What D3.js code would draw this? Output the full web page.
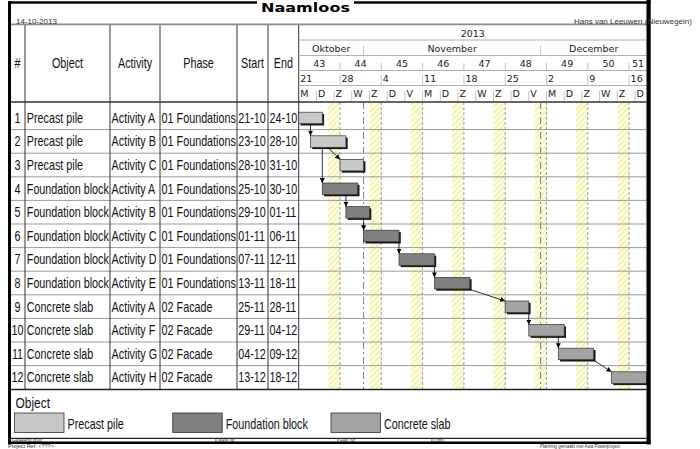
<!DOCTYPE html>
<html><head><meta charset="utf-8">
<script src="https://cdn.jsdelivr.net/npm/d3@7"></script>
<style>body{margin:0;background:#fff}svg{display:block}</style>
</head><body><svg id="c" width="700" height="449"></svg>
<script>
// ---------- data ----------
const ids = [1,2,3,4,5,6,7,8,9,10,11,12];
const objects = ["Precast pile","Precast pile","Precast pile","Foundation block","Foundation block","Foundation block","Foundation block","Foundation block","Concrete slab","Concrete slab","Concrete slab","Concrete slab"];
const activities = ["Activity A","Activity B","Activity C","Activity A","Activity B","Activity C","Activity D","Activity E","Activity A","Activity F","Activity G","Activity H"];
const phases = ["01 Foundations","01 Foundations","01 Foundations","01 Foundations","01 Foundations","01 Foundations","01 Foundations","01 Foundations","02 Facade","02 Facade","02 Facade","02 Facade"];
const starts = ["21-10","23-10","28-10","25-10","29-10","01-11","07-11","13-11","25-11","29-11","04-12","13-12"];
const ends   = ["24-10","28-10","31-10","30-10","01-11","06-11","12-11","18-11","28-11","04-12","09-12","18-12"];
// dependency links: source, target, date where the line leaves the source bar
const linkFrom = [1,2,2,4,5,6,7,8,9,10,11];
const linkTo   = [2,3,4,5,6,7,8,9,10,11,12];
const linkExit = ["23-10","26-10","25-10","29-10","01-11","07-11","13-11","19-11","29-11","04-12","10-12"];

const legendNames = ["Precast pile","Foundation block","Concrete slab"];
const legendColors = ["#c8c8c8","#808080","#a3a3a3"];

const headerLabels = ["#","Object","Activity","Phase","Start","End"];
const yearLabel = "2013";
const monthLabels = ["Oktober","November","December"];
const monthStarts = ["21-10","01-11","01-12"];
const weekLabels = ["43","44","45","46","47","48","49","50","51"];
const dateLabels = ["21","28","4","11","18","25","2","9","16"];
const dayLabels = ["M","D","Z","W","Z","D","V","M","D","Z","W","Z","D","V","M","D","Z","W","Z","D"];
const footerLabels = ["Getekend door:","Werk Nr.","Rev. Nr.","Opm."];

// ---------- helpers ----------
const parse = s => { const [d,m] = s.split("-").map(Number); return new Date(Date.UTC(2013, m-1, d)); };
const svg = d3.select("#c");
const SANS = "'Liberation Sans',Arial,sans-serif";
const HDR = "'DejaVu Sans',sans-serif";
const NX = 0.77; // horizontal compression for narrow text

const X0 = 298.7, X1 = 646.8;
const x = d3.scaleUtc().domain([parse("21-10"), parse("19-12")]).range([X0, X1]);
const y = d3.scaleBand().domain(ids).range([106, 389.2]);
const colColor = d3.scaleOrdinal().domain(legendNames).range(legendColors);
const cols = [10, 25, 110, 160, 237, 268, X0];
const L = 10, R = 646.5;

function ntext(sel, fx, fy) {
  return sel.attr("x", 0).attr("y", 0)
    .attr("transform", (d,i) => `translate(${fx(d,i)},${fy(d,i)}) scale(${NX},1)`)
    .attr("font-family", SANS);
}

// defs: hatch + arrow
const defs = svg.append("defs");
const pat = defs.append("pattern").attr("id","hatch").attr("patternUnits","userSpaceOnUse")
  .attr("width",4).attr("height",4).attr("patternTransform","rotate(45)");
pat.append("rect").attr("width",4).attr("height",4).attr("fill","#ffffe2");
pat.append("rect").attr("width",1.4).attr("height",4).attr("fill","#f3eda6");
defs.append("marker").attr("id","arr").attr("viewBox","0 0 6 6").attr("refX",6).attr("refY",3)
  .attr("markerWidth",5).attr("markerHeight",5).attr("orient","auto").attr("markerUnits","userSpaceOnUse")
  .append("path").attr("d","M0,0L6,3L0,6Z").attr("fill","#000");

// ---------- timeline body background ----------
const body = svg.append("g");
const domainDays = d3.utcDay.range(parse("21-10"), parse("19-12"));
const saturdays = domainDays.filter(d => d.getUTCDay() === 6);
body.selectAll("rect.we").data(saturdays).join("rect")
  .attr("x", d => x(d)).attr("y", 102).attr("width", d => Math.min(x(d3.utcDay.offset(d,2)), X1) - x(d))
  .attr("height", 389.2 - 102).attr("fill","url(#hatch)");
const mondays = domainDays.filter(d => d.getUTCDay() === 1).slice(1);
body.selectAll("line.mon").data(mondays).join("line")
  .attr("x1", d => x(d)).attr("x2", d => x(d)).attr("y1",102).attr("y2",389)
  .attr("stroke","#8a8a8a").attr("stroke-width",0.8).attr("stroke-dasharray","3,2");
const monthBounds = monthStarts.slice(1).map(parse);
body.selectAll("line.mb").data(monthBounds).join("line")
  .attr("x1", d => x(d)).attr("x2", d => x(d)).attr("y1",102).attr("y2",389)
  .attr("stroke","#7878a8").attr("stroke-width",1).attr("stroke-dasharray","7,3,2,3");

// ---------- grid ----------
const grid = svg.append("g");
grid.selectAll("line.row").data(ids.slice(1)).join("line")
  .attr("x1", L).attr("x2", R).attr("y1", d => y(d)).attr("y2", d => y(d))
  .attr("stroke","#9a9a9a").attr("stroke-width",1);
grid.selectAll("line.col").data(cols.slice(1)).join("line")
  .attr("x1", d => d).attr("x2", d => d).attr("y1", 25).attr("y2", 389.2)
  .attr("stroke","#333").attr("stroke-width",1);
grid.selectAll("line.th").data([40, 55.5, 70.5, 85.5]).join("line")
  .attr("x1", X0).attr("x2", R).attr("y1", d => d).attr("y2", d => d)
  .attr("stroke","#b0b0b0").attr("stroke-width",1);
grid.append("line").attr("x1",L).attr("x2",R).attr("y1",24.3).attr("y2",24.3).attr("stroke","#8c8c8c").attr("stroke-width",1.8);
grid.append("line").attr("x1",L).attr("x2",R).attr("y1",102).attr("y2",102).attr("stroke","#333").attr("stroke-width",1.3);
grid.append("line").attr("x1",L).attr("x2",R).attr("y1",389.5).attr("y2",389.5).attr("stroke","#222").attr("stroke-width",1.3);
grid.append("line").attr("x1",L).attr("x2",R).attr("y1",438.3).attr("y2",438.3).attr("stroke","#222").attr("stroke-width",1.3);

// ---------- header text ----------
const hdrCenters = cols.slice(0,-1).map((c,i) => (c + cols[i+1]) / 2);
ntext(svg.selectAll("text.hl").data(headerLabels).join("text"), (d,i) => hdrCenters[i], () => 68)
  .attr("text-anchor","middle").attr("font-size", 14).attr("fill","#111").text(d => d);

// timeline header
const th = svg.append("g").attr("font-family", HDR).attr("font-size", 9.5).attr("fill","#222");
th.append("text").attr("x", (X0 + X1) / 2).attr("y", 36.5).attr("text-anchor","middle").text(yearLabel);
const mStarts = monthStarts.map(parse);
const mEnds = mStarts.slice(1).concat([parse("19-12")]);
th.selectAll("text.m").data(monthLabels).join("text")
  .attr("x", (d,i) => (x(mStarts[i]) + x(mEnds[i])) / 2).attr("y", 51.5).attr("text-anchor","middle").text(d => d);
th.selectAll("line.mt").data(monthBounds).join("line")
  .attr("x1", d => x(d)).attr("x2", d => x(d)).attr("y1", 46).attr("y2", 55.5).attr("stroke","#c4c4c4");
const weekStarts = weekLabels.map((w,i) => d3.utcDay.offset(parse("21-10"), 7*i));
th.selectAll("text.w").data(weekLabels).join("text")
  .attr("x", (d,i) => (x(weekStarts[i]) + Math.min(x(d3.utcDay.offset(weekStarts[i],7)), X1)) / 2)
  .attr("y", 66.5).attr("text-anchor","middle").text(d => d);
th.selectAll("line.wt").data(weekStarts.slice(1)).join("line")
  .attr("x1", d => x(d)).attr("x2", d => x(d)).attr("y1", 63).attr("y2", 70.5).attr("stroke","#c4c4c4");
th.selectAll("text.dt").data(dateLabels).join("text")
  .attr("x", (d,i) => x(weekStarts[i]) + 1.5).attr("y", 81.5).text(d => d);
th.selectAll("line.dtt").data(weekStarts.slice(1)).join("line")
  .attr("x1", d => x(d)).attr("x2", d => x(d)).attr("y1", 75).attr("y2", 85.5).attr("stroke","#c4c4c4");
const dayPos = dayLabels.map((d,i) => d3.utcDay.offset(parse("21-10"), 3*i));
th.selectAll("text.dy").data(dayLabels).join("text")
  .attr("x", (d,i) => x(dayPos[i]) + 1.5).attr("y", 96.5).text(d => d);
th.selectAll("line.dyt").data(dayPos.slice(1)).join("line")
  .attr("x1", d => x(d)).attr("x2", d => x(d)).attr("y1", 91).attr("y2", 101).attr("stroke","#c4c4c4");

// ---------- table rows ----------
const tbl = svg.append("g").attr("font-size", 14).attr("fill","#111");
const rowY = d => y(d) + y.bandwidth()/2 + 5;
ntext(tbl.selectAll("text.id").data(ids).join("text"), () => 17.5, d => rowY(d))
  .attr("text-anchor","middle").text(d => d);
const colText = [[objects, 26.8], [activities, 111.6], [phases, 161.6], [starts, 238.3], [ends, 269.6]];
colText.forEach(([arr, cx]) => {
  ntext(tbl.append("g").selectAll("text").data(arr).join("text"), () => cx, (d,i) => rowY(ids[i])).text(d => d);
});

// ---------- bars ----------
const bars = svg.append("g");
const barY = id => y(id) + y.bandwidth()/2 - 5.6;
const BH = 11.5;
const barData = ids.map((id,i) => ({id, obj: objects[i], s: parse(starts[i]), e: d3.utcDay.offset(parse(ends[i]),1)}));
bars.selectAll("rect.sh").data(barData).join("rect")
  .attr("x", d => x(d.s) + 1.8).attr("y", d => barY(d.id) + 1.8)
  .attr("width", d => Math.min(x(d.e), X1) - x(d.s)).attr("height", BH).attr("fill","#1a1a1a");
bars.selectAll("rect.b").data(barData).join("rect")
  .attr("x", d => x(d.s)).attr("y", d => barY(d.id))
  .attr("width", d => Math.min(x(d.e), X1) - x(d.s)).attr("height", BH)
  .attr("fill", d => colColor(d.obj)).attr("stroke","#333").attr("stroke-width",0.7);

// ---------- links ----------
const links = svg.append("g");
links.selectAll("line").data(linkFrom.map((f,i) => ({f, t: linkTo[i], ex: parse(linkExit[i])}))).join("line")
  .attr("x1", d => x(d.ex)).attr("y1", d => barY(d.f) + BH + 0.5)
  .attr("x2", d => x(parse(starts[d.t-1]))).attr("y2", d => barY(d.t))
  .attr("stroke","#000").attr("stroke-width",0.8).attr("marker-end","url(#arr)");

// ---------- legend ----------
const lg = svg.append("g").attr("fill","#111");
ntext(lg.append("text"), () => 15.5, () => 407.5).attr("font-size", 15.5).text("Object");
const lgX = d3.scalePoint().domain(legendNames).range([14.5, 331]);
lg.selectAll("rect").data(legendNames).join("rect")
  .attr("x", d => lgX(d)).attr("y", 413).attr("width", 49.5).attr("height", 19.5)
  .attr("fill", d => colColor(d)).attr("stroke","#333").attr("stroke-width",0.8);
ntext(lg.selectAll("text.l").data(legendNames).join("text"), d => lgX(d) + 53, () => 428.5)
  .attr("font-size", 14).text(d => d);

// ---------- footer ----------
const ft = svg.append("g").attr("font-family", SANS).attr("fill","#333");
const footX = [12, 218, 340, 434];
ft.selectAll("text.f").data(footerLabels).join("text")
  .attr("x", (d,i) => footX[i]).attr("y", 441.8).attr("font-size", 4.5).text(d => d);
ft.selectAll("line.fs").data(footX.slice(1)).join("line")
  .attr("x1", d => d - 2).attr("x2", d => d - 2).attr("y1", 438).attr("y2", 442).attr("stroke","#333").attr("stroke-width",0.8);
ft.append("text").attr("x", 8).attr("y", 447.5).attr("font-size", 5.5).text("Project Ref: <???>");
ft.append("text").attr("x", 540).attr("y", 447.5).attr("font-size", 4.5).attr("textLength", 80).attr("lengthAdjust","spacingAndGlyphs")
  .text("Planning gemaakt met Asta Powerproject");

// ---------- frame ----------
const fr = svg.append("g");
fr.append("line").attr("x1", 8).attr("x2", 650.5).attr("y1", 2.5).attr("y2", 2.5).attr("stroke","#000").attr("stroke-width", 2.5);
fr.append("rect").attr("x", 8).attr("y", 1.3).attr("width", 3).attr("height", 443).attr("fill","#000");
fr.append("rect").attr("x", 646.5).attr("y", 0).attr("width", 4.2).attr("height", 444.5).attr("fill","#000");
fr.append("line").attr("x1", 8).attr("x2", 650.5).attr("y1", 442.8).attr("y2", 442.8).attr("stroke","#000").attr("stroke-width", 2.6);
fr.append("rect").attr("x", 257).attr("y", 0).attr("width", 97).attr("height", 14).attr("fill","#fff");
fr.append("text").attr("x", 261).attr("y", 11.5).attr("font-family", HDR).attr("font-weight","bold")
  .attr("font-size", 11.5).attr("textLength", 89).attr("lengthAdjust","spacingAndGlyphs").attr("fill","#000").text("Naamloos");
fr.append("text").attr("x", 16).attr("y", 24).attr("font-family", SANS).attr("font-size", 8).attr("fill","#333").text("14-10-2013");
fr.append("text").attr("x", 574).attr("y", 24).attr("font-family", SANS).attr("font-size", 8).attr("fill","#333").text("Hans van Leeuwen (Nieuwegein)");
</script></body></html>
